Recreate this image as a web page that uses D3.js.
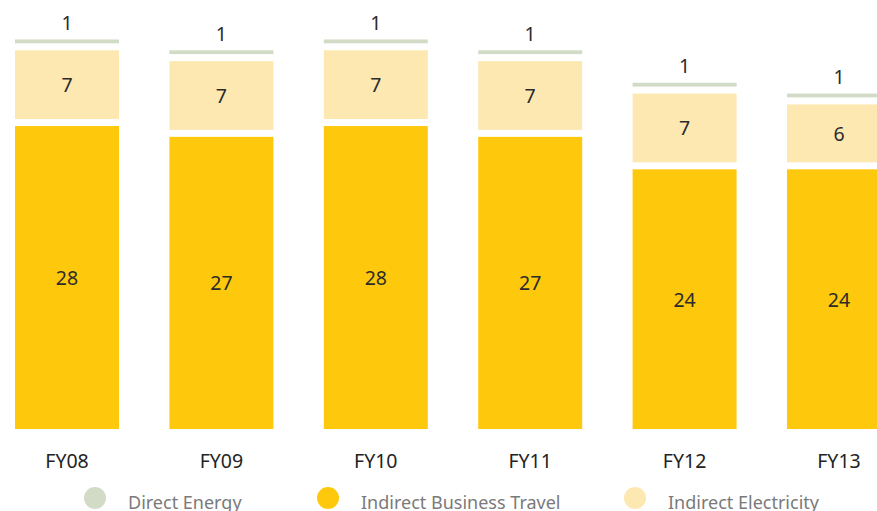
<!DOCTYPE html>
<html>
<head>
<meta charset="utf-8">
<script src="https://cdn.jsdelivr.net/npm/d3@7"></script>
<style>
  body { margin: 0; background: #fff; overflow: hidden; }
  text { font-family: "Noto Sans", "DejaVu Sans", sans-serif; }
</style>
</head>
<body>
<script>
// data
const years = ["FY08", "FY09", "FY10", "FY11", "FY12", "FY13"]
const businessTravel = [28, 27, 28, 27, 24, 24]
const electricity = [7, 7, 7, 7, 7, 6]
const directEnergy = [1, 1, 1, 1, 1, 1]

const seriesNames = ["Direct Energy", "Indirect Business Travel", "Indirect Electricity"]
const seriesColors = ["#d2dbc6", "#fec90c", "#fde8b2"]

const width = 877, height = 511
const gap = 7

const svg = d3.select("body").append("svg")
    .attr("width", width)
    .attr("height", height)

const x = d3.scaleBand()
    .domain(years)
    .range([15, 891])
    .paddingInner(0.3264)
    .paddingOuter(0)

const y = d3.scaleLinear()
    .domain([0, 40])
    .range([429, 429 - 40 * 10.82])

// stack order bottom -> top
const stackKeys = ["business", "electricity", "direct"]
const table = years.map((yr, i) => ({
    year: yr,
    business: businessTravel[i],
    electricity: electricity[i],
    direct: directEnergy[i]
}))
const colorOf = {
    business: seriesColors[1],
    electricity: seriesColors[2],
    direct: seriesColors[0]
}

const stacked = d3.stack().keys(stackKeys)(table)

const gBars = svg.append("g")

stacked.forEach(layer => {
    const g = gBars.append("g").attr("fill", colorOf[layer.key])
    g.selectAll("rect")
        .data(layer)
        .join("rect")
        .attr("x", d => x(d.data.year))
        .attr("width", x.bandwidth())
        .attr("y", d => y(d[1]))
        .attr("height", d => {
            const off = d[0] > 0 ? gap : 0
            return Math.max(1, y(d[0]) - off - y(d[1]))
        })

    // value labels
    g.selectAll("text")
        .data(layer)
        .join("text")
        .attr("x", d => x(d.data.year) + x.bandwidth() / 2)
        .attr("y", d => {
            if (layer.key === "direct") return y(d[1]) - 17
            const off = d[0] > 0 ? gap : 0
            return (y(d[1]) + y(d[0]) - off) / 2
        })
        .attr("text-anchor", "middle")
        .attr("dominant-baseline", "central")
        .attr("fill", "#2b2b2b")
        .attr("font-size", 19.5)
        .text(d => d[1] - d[0])
})

// category labels
svg.append("g")
    .selectAll("text")
    .data(years)
    .join("text")
    .attr("x", d => x(d) + x.bandwidth() / 2)
    .attr("y", 460)
    .attr("text-anchor", "middle")
    .attr("dominant-baseline", "central")
    .attr("fill", "#222")
    .attr("font-size", 19.5)
    .text(d => d)

// legend
const legendX = [95, 328, 635]
const legend = svg.append("g")
    .selectAll("g")
    .data(seriesNames)
    .join("g")
    .attr("transform", (d, i) => `translate(${legendX[i]},498)`)

legend.append("circle")
    .attr("r", 11)
    .attr("fill", (d, i) => seriesColors[i])

legend.append("text")
    .attr("x", 33)
    .attr("y", 4)
    .attr("dominant-baseline", "central")
    .attr("fill", "#7a7a7a")
    .attr("font-size", 18)
    .text(d => d)
</script>
</body>
</html>
